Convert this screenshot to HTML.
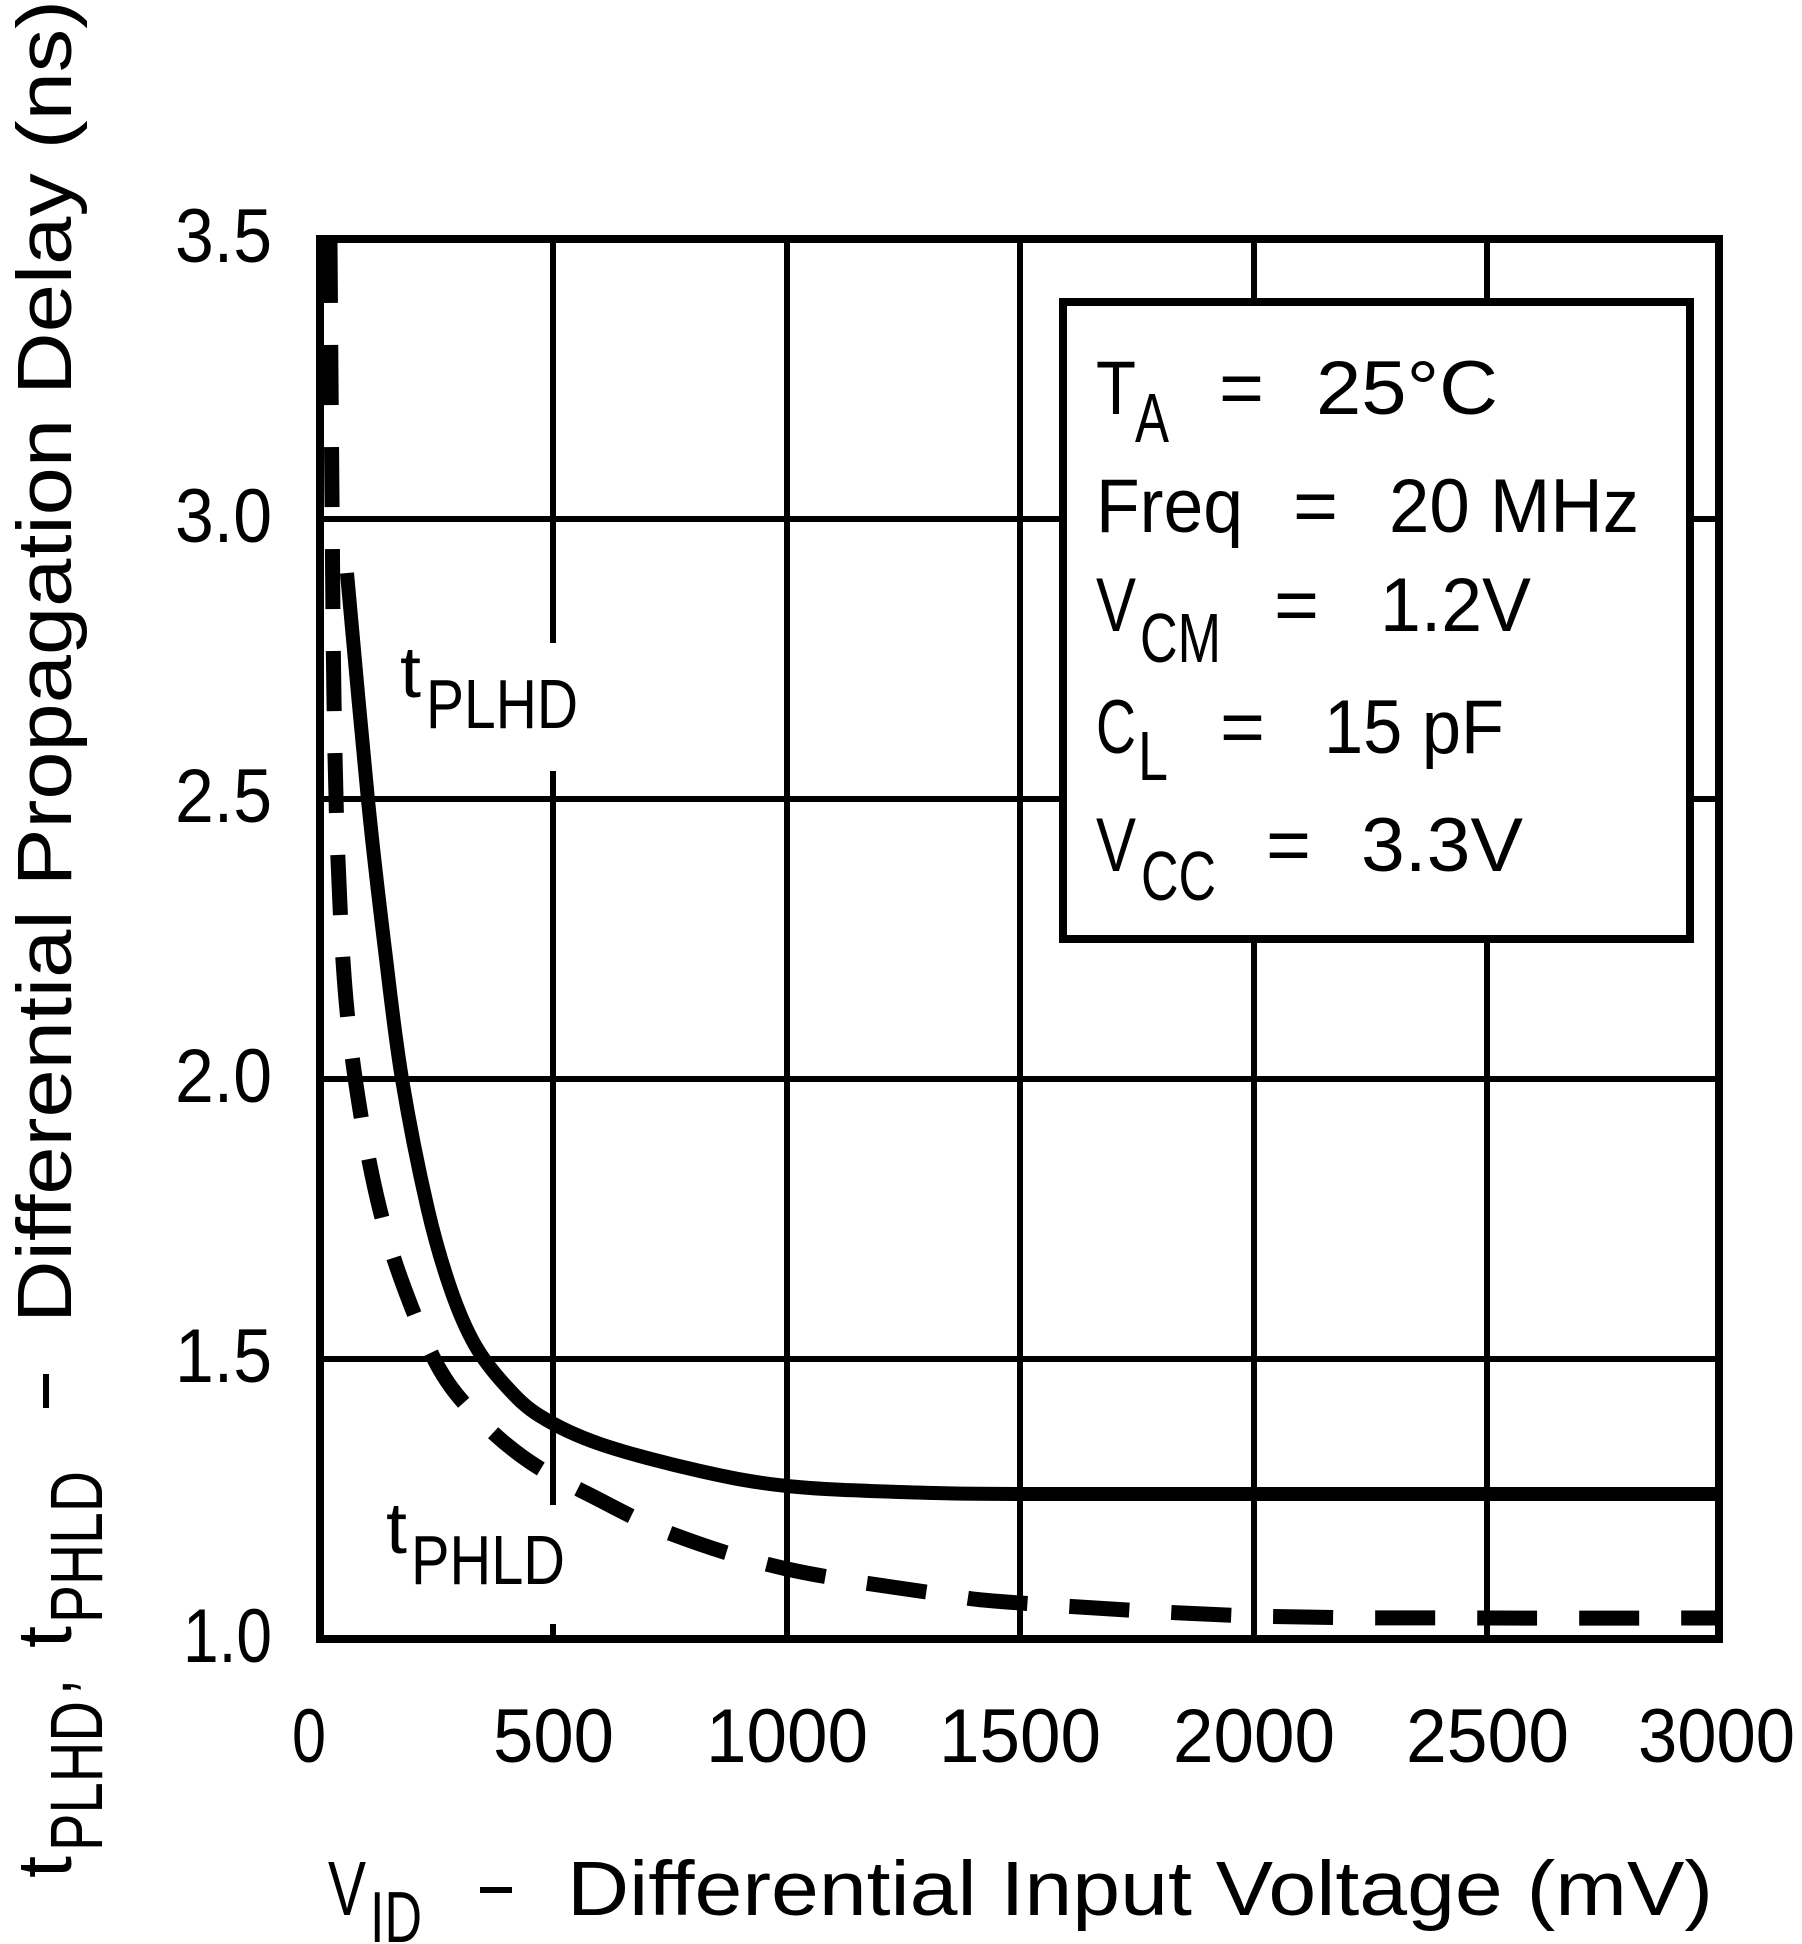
<!DOCTYPE html>
<html><head><meta charset="utf-8"><style>
html,body{margin:0;padding:0;background:#fff;}
svg{display:block;}
text{font-family:"Liberation Sans",sans-serif;fill:#000;}
</style></head><body>
<svg width="1802" height="1944" viewBox="0 0 1802 1944" xmlns="http://www.w3.org/2000/svg">
<rect width="1802" height="1944" fill="#fff"/>
<g stroke="#000" stroke-width="6">
<line x1="553" y1="239" x2="553" y2="1639"/>
<line x1="787" y1="239" x2="787" y2="1639"/>
<line x1="1020" y1="239" x2="1020" y2="1639"/>
<line x1="1254" y1="239" x2="1254" y2="1639"/>
<line x1="1487" y1="239" x2="1487" y2="1639"/>
<line x1="320" y1="519" x2="1719" y2="519"/>
<line x1="320" y1="799" x2="1719" y2="799"/>
<line x1="320" y1="1079" x2="1719" y2="1079"/>
<line x1="320" y1="1359" x2="1719" y2="1359"/>
</g>
<rect x="396" y="643" width="190" height="128" fill="#fff"/>
<rect x="382" y="1505" width="190" height="119" fill="#fff"/>
<path id="solid" fill="none" stroke="#000" stroke-width="14" stroke-linejoin="round"
d="M347,573 L358,690 368,800 385,950 402,1079 430,1220 451,1290 472,1340 491,1366 518,1399 554,1423 625,1452 700,1471 787,1486 900,1492 1020,1494 1721,1494"/>
<path id="dash" fill="none" stroke="#000" stroke-width="15" stroke-dasharray="60 42" stroke-linejoin="round"
d="M330,243 L333,600 338,830 341,960 350,1075 370,1170 395,1265 420,1330 446,1378 507,1446 592,1496 672,1534 787,1569 940,1594 1020,1603 1254,1616 1721,1618"/>
<rect x="320" y="239" width="1399" height="1400" fill="none" stroke="#000" stroke-width="8"/>
<rect x="1063" y="302" width="627" height="637" fill="#fff" stroke="#000" stroke-width="8"/>
<g font-size="76">
<text x="1096" y="414" textLength="40" lengthAdjust="spacingAndGlyphs">T</text>
<text x="1135" y="442" font-size="70" textLength="34" lengthAdjust="spacingAndGlyphs">A</text>
<text x="1219" y="414" textLength="45" lengthAdjust="spacingAndGlyphs">=</text>
<text x="1316" y="414" textLength="182" lengthAdjust="spacingAndGlyphs">25°C</text>
<text x="1096" y="532" textLength="147" lengthAdjust="spacingAndGlyphs">Freq</text>
<text x="1293" y="532" textLength="45" lengthAdjust="spacingAndGlyphs">=</text>
<text x="1389" y="532" textLength="250" lengthAdjust="spacingAndGlyphs">20 MHz</text>
<text x="1096" y="631" textLength="40" lengthAdjust="spacingAndGlyphs">V</text>
<text x="1140" y="662" font-size="70" textLength="81" lengthAdjust="spacingAndGlyphs">CM</text>
<text x="1274" y="631" textLength="45" lengthAdjust="spacingAndGlyphs">=</text>
<text x="1380" y="631" textLength="151" lengthAdjust="spacingAndGlyphs">1.2V</text>
<text x="1096" y="753" textLength="40" lengthAdjust="spacingAndGlyphs">C</text>
<text x="1138" y="780" font-size="70" textLength="30" lengthAdjust="spacingAndGlyphs">L</text>
<text x="1220" y="753" textLength="45" lengthAdjust="spacingAndGlyphs">=</text>
<text x="1324" y="753" textLength="180" lengthAdjust="spacingAndGlyphs">15 pF</text>
<text x="1096" y="871" textLength="40" lengthAdjust="spacingAndGlyphs">V</text>
<text x="1141" y="900" font-size="70" textLength="75" lengthAdjust="spacingAndGlyphs">CC</text>
<text x="1266" y="871" textLength="45" lengthAdjust="spacingAndGlyphs">=</text>
<text x="1361" y="871" textLength="162" lengthAdjust="spacingAndGlyphs">3.3V</text>
</g>
<text x="400" y="697" font-size="72" textLength="21" lengthAdjust="spacingAndGlyphs">t</text>
<text x="426" y="728" font-size="70" textLength="152" lengthAdjust="spacingAndGlyphs">PLHD</text>
<text x="386" y="1553" font-size="72" textLength="21" lengthAdjust="spacingAndGlyphs">t</text>
<text x="411" y="1584" font-size="70" textLength="154" lengthAdjust="spacingAndGlyphs">PHLD</text>
<g font-size="76" text-anchor="end">
<text x="272" y="262" textLength="97" lengthAdjust="spacingAndGlyphs">3.5</text>
<text x="272" y="542" textLength="97" lengthAdjust="spacingAndGlyphs">3.0</text>
<text x="272" y="822" textLength="97" lengthAdjust="spacingAndGlyphs">2.5</text>
<text x="272" y="1102" textLength="97" lengthAdjust="spacingAndGlyphs">2.0</text>
<text x="272" y="1382" textLength="97" lengthAdjust="spacingAndGlyphs">1.5</text>
<text x="272" y="1662" textLength="89" lengthAdjust="spacingAndGlyphs">1.0</text>
</g>
<g font-size="76">
<text x="292" y="1762" textLength="34" lengthAdjust="spacingAndGlyphs">0</text>
<text x="493" y="1762" textLength="121" lengthAdjust="spacingAndGlyphs">500</text>
<text x="706" y="1762" textLength="162" lengthAdjust="spacingAndGlyphs">1000</text>
<text x="939" y="1762" textLength="162" lengthAdjust="spacingAndGlyphs">1500</text>
<text x="1173" y="1762" textLength="162" lengthAdjust="spacingAndGlyphs">2000</text>
<text x="1406" y="1762" textLength="163" lengthAdjust="spacingAndGlyphs">2500</text>
<text x="1638" y="1762" textLength="157" lengthAdjust="spacingAndGlyphs">3000</text>
</g>
<g font-size="77">
<text x="328" y="1915" textLength="38" lengthAdjust="spacingAndGlyphs">V</text>
<text x="370" y="1942" font-size="72" textLength="52" lengthAdjust="spacingAndGlyphs">ID</text>
<rect x="480" y="1887" width="32" height="6" fill="#000"/>
<text x="567" y="1915" textLength="1146" lengthAdjust="spacingAndGlyphs">Differential Input Voltage (mV)</text>
</g>
<g transform="translate(71,1878) rotate(-90)" font-size="77">
<text x="0" y="0" textLength="22" lengthAdjust="spacingAndGlyphs">t</text>
<text x="27" y="31" font-size="74" textLength="150" lengthAdjust="spacingAndGlyphs">PLHD</text>
<text x="183" y="0" textLength="16" lengthAdjust="spacingAndGlyphs">,</text>
<text x="230" y="0" textLength="22" lengthAdjust="spacingAndGlyphs">t</text>
<text x="255" y="31" font-size="74" textLength="152" lengthAdjust="spacingAndGlyphs">PHLD</text>
<rect x="470" y="-28" width="34" height="6" fill="#000"/>
<text x="555" y="0" textLength="1323" lengthAdjust="spacingAndGlyphs">Differential Propagation Delay (ns)</text>
</g>
</svg>
<script>
function cr(pts){var d="M"+pts[0][0]+","+pts[0][1];for(var i=0;i<pts.length-1;i++){var p0=pts[i-1]||pts[i],p1=pts[i],p2=pts[i+1],p3=pts[i+2]||p2;
var c1x=p1[0]+(p2[0]-p0[0])/6,c1y=p1[1]+(p2[1]-p0[1])/6,c2x=p2[0]-(p3[0]-p1[0])/6,c2y=p2[1]-(p3[1]-p1[1])/6;
d+=" C"+c1x.toFixed(1)+","+c1y.toFixed(1)+" "+c2x.toFixed(1)+","+c2y.toFixed(1)+" "+p2[0]+","+p2[1];}return d;}
document.getElementById("solid").setAttribute("d",cr([[347,573],[368,800],[385,950],[402,1079],[428,1210],[451,1290],[475,1345],[505,1385],[540,1416],[600,1444],[700,1471],[787,1486],[900,1492],[1020,1494],[1300,1494],[1721,1494]]));
document.getElementById("dash").setAttribute("d",cr([[330,243],[332,500],[334,700],[338,860],[346,1000],[360,1110],[380,1210],[405,1290],[440,1370],[480,1420],[530,1462],[592,1496],[672,1534],[787,1569],[940,1594],[1020,1603],[1254,1616],[1500,1618],[1721,1618]]));
</script>
</body></html>
